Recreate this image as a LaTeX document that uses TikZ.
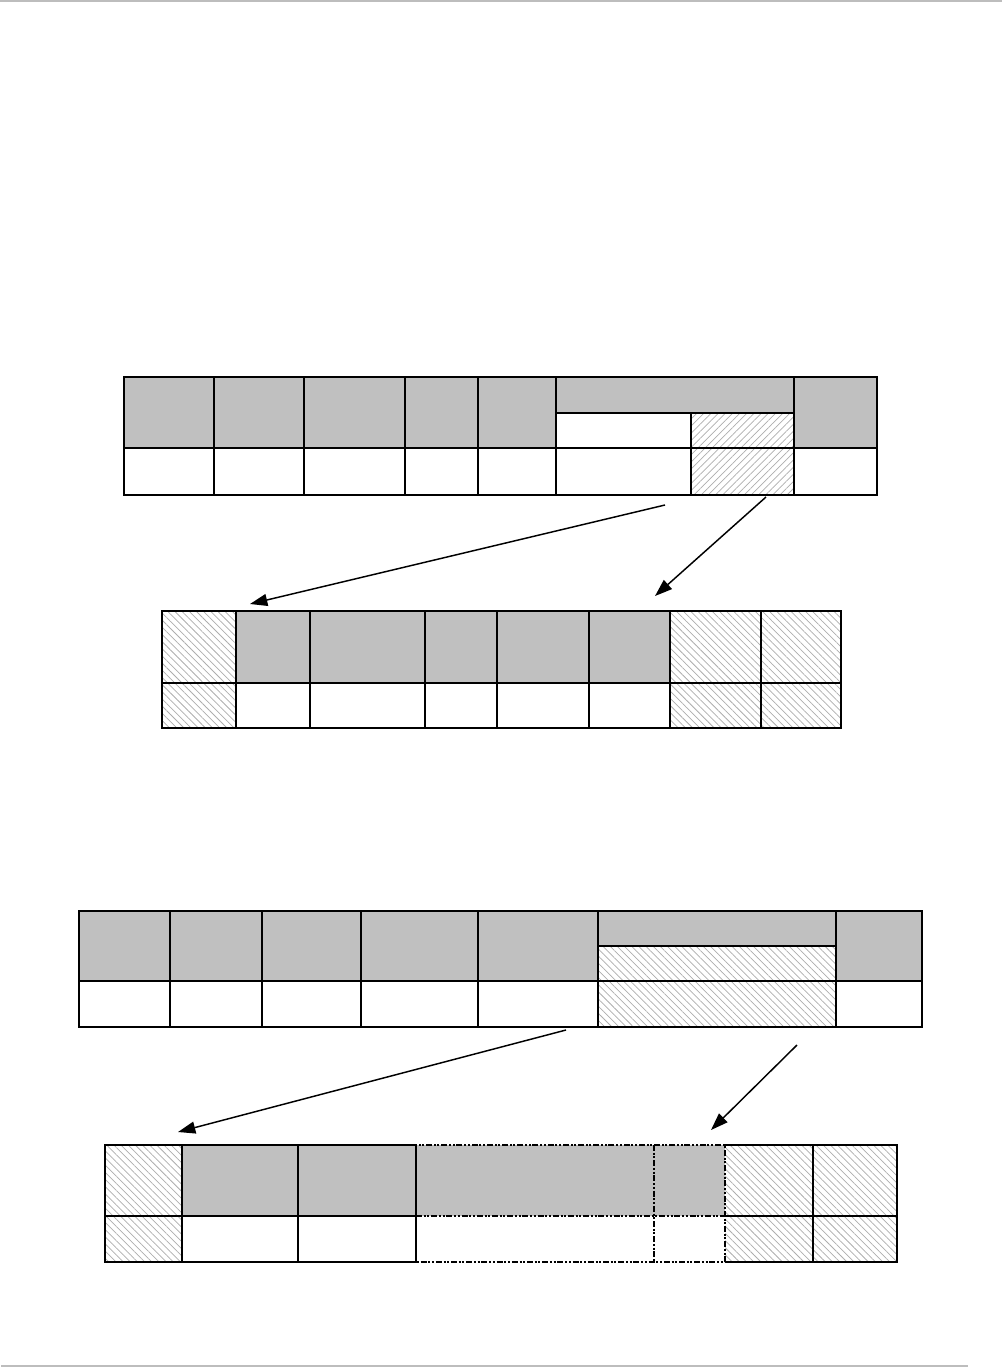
\documentclass[tikz,border=0pt]{standalone}
\usetikzlibrary{patterns.meta,arrows.meta}
\definecolor{cellgray}{HTML}{C0C0C0}
\definecolor{hatchgray}{HTML}{ADADAD}
\definecolor{rulegray}{HTML}{BDBDBD}
\tikzset{
  grayfill/.style={fill=cellgray},
  hatchne/.style={pattern={Lines[angle=45,distance=3.8pt,line width=0.55pt]},pattern color=hatchgray},
  hatchnw/.style={pattern={Lines[angle=-45,distance=3.8pt,line width=0.55pt]},pattern color=hatchgray},
  border/.style={draw=black,line width=1.1pt},
  dashdotdot/.style={draw=black,line width=1.5pt,dash pattern=on 4.5pt off 1.3pt on 1.5pt off 1.3pt on 1.5pt off 1.3pt},
  thindashdot/.style={draw=black,line width=0.9pt,dash pattern=on 4.5pt off 1.3pt on 1.5pt off 1.3pt on 1.5pt off 1.3pt},
  pointer/.style={draw=black,line width=1.1pt,-{Triangle[length=13pt,width=9pt]}},
  pagerule/.style={draw=rulegray,line width=1.6pt}
}
\begin{document}
\begin{tikzpicture}[x=0.75pt,y=-0.75pt]
\useasboundingbox (0,0) rectangle (1002,1368);
% page rules
\draw[pagerule] (0,1) -- (1002,1);
\draw[pagerule] (1,1366) -- (968,1366);

% ---------- Table 1 ----------
\fill[grayfill] (124,377) rectangle (556,448);
\fill[grayfill] (556,377) rectangle (794,413);
\fill[grayfill] (794,377) rectangle (877,448);
\path[hatchne] (691,413) rectangle (794,495);
\draw[border] (124,377) rectangle (877,495);
\draw[border] (124,448) -- (877,448);
\draw[border] (556,413) -- (794,413);
\foreach \x in {214,304,405,478,556,794} \draw[border] (\x,377) -- (\x,495);
\draw[border] (691,413) -- (691,495);

% ---------- Table 2 ----------
\fill[grayfill] (236,611) rectangle (670,683);
\path[hatchnw] (162,611) rectangle (236,728);
\path[hatchnw] (670,611) rectangle (841,728);
\draw[border] (162,611) rectangle (841,728);
\draw[border] (162,683) -- (841,683);
\foreach \x in {236,310,425,497,589,670,761} \draw[border] (\x,611) -- (\x,728);

% ---------- Table 3 ----------
\fill[grayfill] (79,911) rectangle (922,981);
\fill[white] (598,946) rectangle (836,981);
\path[hatchnw] (598,946) rectangle (836,1027);
\draw[border] (79,911) rectangle (922,1027);
\draw[border] (79,981) -- (922,981);
\draw[border] (598,946) -- (836,946);
\foreach \x in {170,262,361,478,598,836} \draw[border] (\x,911) -- (\x,1027);

% ---------- Table 4 ----------
\fill[grayfill] (182,1145) rectangle (725,1216);
\path[hatchnw] (105,1145) rectangle (182,1262);
\path[hatchnw] (725,1145) rectangle (897,1262);
\draw[border] (105,1145) rectangle (416,1262);
\draw[border] (105,1216) -- (416,1216);
\foreach \x in {182,298} \draw[border] (\x,1145) -- (\x,1262);
\draw[border] (725,1145) -- (897,1145) -- (897,1262) -- (725,1262);
\draw[border] (725,1216) -- (897,1216);
\draw[border] (813,1145) -- (813,1262);
\draw[dashdotdot] (416,1145) rectangle (725,1262);
\draw[dashdotdot] (416,1216) -- (725,1216);
\draw[thindashdot] (654,1145) -- (654,1262);

% ---------- Arrows ----------
\coordinate (a1s) at (665,505);
\coordinate (a1e) at (250,604);
\coordinate (a2s) at (766,497);
\coordinate (a2e) at (655,596);
\coordinate (a3s) at (566,1030);
\coordinate (a3e) at (178,1132);
\coordinate (a4s) at (797,1045);
\coordinate (a4e) at (711,1130);
\draw[pointer] (a1s) -- (a1e);
\draw[pointer] (a2s) -- (a2e);
\draw[pointer] (a3s) -- (a3e);
\draw[pointer] (a4s) -- (a4e);
\end{tikzpicture}
\end{document}
